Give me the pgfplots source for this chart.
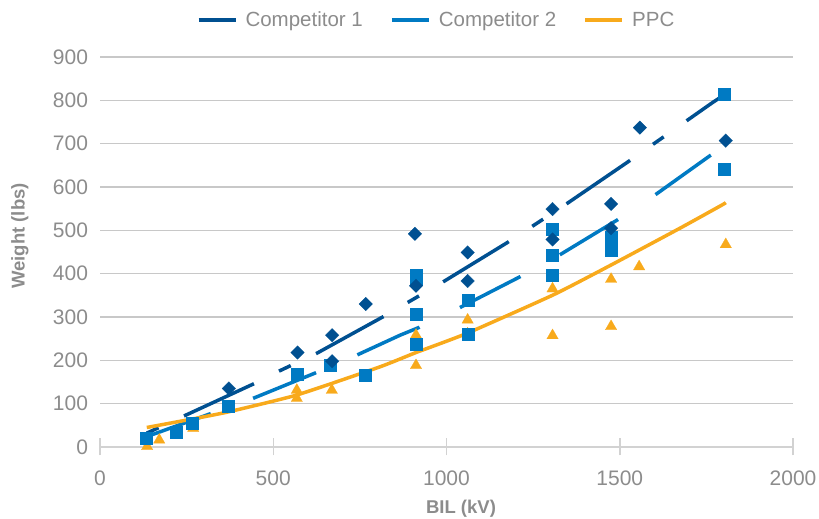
\documentclass[border=0pt]{standalone}
\usepackage{fontspec}
\setmainfont{Liberation Sans}
\usepackage{pgfplots}
\pgfplotsset{compat=1.18}
\definecolor{compone}{RGB}{0,80,145}
\definecolor{comptwo}{RGB}{0,122,195}
\definecolor{ppc}{RGB}{248,170,28}
\definecolor{txtgray}{RGB}{140,140,140}
\definecolor{gridgray}{RGB}{200,200,200}
\definecolor{axisgray}{RGB}{210,210,210}

\begin{document}
\begin{tikzpicture}[x=1pt,y=1pt]
\path[use as bounding box] (0,0) rectangle (819,519);
\begin{axis}[
    at={(100pt,72pt)}, anchor=south west,
    scale only axis, width=693pt, height=390pt,
    xmin=0, xmax=2000, ymin=0, ymax=900,
    xtick={0,500,...,2000}, ytick={0,100,...,900},
    axis x line=bottom, axis y line=left,
    axis line style={-},
    x axis line style={draw=axisgray, line width=1.5pt},
    y axis line style={draw=none},
    ymajorgrids=true,
    major grid style={draw=gridgray, line width=1.3pt},
    tick align=center, major tick length=17pt,
    xtick style={draw=axisgray, line width=1.5pt},
    ytick style={draw=none},
    /pgf/number format/assume math mode=true,
    /pgf/number format/1000 sep={},
    tick label style={font=\fontsize{21}{25}\selectfont, text=txtgray},
    xticklabel style={anchor=center, yshift=-23pt},
    yticklabel style={anchor=east, xshift=0pt},
    legend columns=3,
    legend style={at={(0.4855,1)}, anchor=center, yshift=37pt,
        draw=none, fill=none, font=\fontsize{20.5}{24}\selectfont,
        text=txtgray,
        /tikz/every odd column/.append style={column sep=6pt},
        /tikz/every even column/.append style={column sep=25pt}},
    legend image code/.code={\draw[#1, solid, line width=4pt] (0pt,0pt) -- (37pt,0pt);},
]
% trend lines
\addplot[compone, line width=3.5pt, dash pattern=on 13pt off 28pt on 77pt off 28pt] coordinates {
    (135,32) (447,147) (519,176) (625,216) (818,301) (986,379) (1174,471)
    (1337,556) (1520,656) (1679,745) (1768,795) (1806,815)
};
\addplot[comptwo, line width=3.5pt, dash pattern=on 68pt off 45pt] coordinates {
    (135,24) (441,112) (625,172) (741,212) (866,258) (921,276) (1037,321)
    (1210,392) (1326,443) (1493,524) (1599,580) (1760,672) (1802,693)
};
\addplot[ppc, line width=3.5pt, smooth, tension=0.3] coordinates {
    (135,45) (269,65) (370,81) (568,120) (808,185) (912,218) (1058,262)
    (1308,351) (1475,420) (1674,505) (1794,558) (1806,564)
};
\legend{Competitor 1, Competitor 2, PPC}
% data points
\addplot[forget plot, only marks, ppc, mark=triangle*, mark size=6.6pt,
    mark options={solid, draw=ppc, line width=0.2pt, fill=ppc, yshift=-1.6pt}] coordinates {
    (136,5) (171,20) (269,47) (568,116) (568,135) (669,135) (912,262) (912,192)
    (1061,297) (1061,265) (1306,369) (1306,261) (1475,391) (1475,282)
    (1556,420) (1806,471)
};
\addplot[forget plot, only marks, comptwo, mark=square*, mark size=6pt,
    mark options={solid, draw=comptwo, line width=0.2pt, fill=comptwo}] coordinates {
    (133,21) (219,35) (267,56) (370,95) (569,168) (664,189) (765,166)
    (912,397) (912,387) (912,307) (912,238) (1061,339) (1061,261)
    (1306,502) (1306,443) (1306,397) (1475,485) (1475,455) (1802,815) (1802,641)
};
\addplot[forget plot, only marks, compone, mark=square*, mark size=4.8pt,
    mark options={solid, draw=compone, line width=0.2pt, fill=compone, rotate=45}] coordinates {
    (372,135) (570,218) (670,258) (670,198) (767,330) (909,492) (912,372)
    (1061,449) (1061,383) (1306,549) (1306,479) (1475,561) (1475,505)
    (1558,737) (1806,707)
};
\end{axis}
\node[text=txtgray, font=\bfseries\fontsize{18.5}{22}\selectfont] at (461,10) {BIL (kV)};
\node[text=txtgray, font=\bfseries\fontsize{18.5}{22}\selectfont, rotate=90] at (20,283) {Weight (lbs)};
\end{tikzpicture}
\end{document}
